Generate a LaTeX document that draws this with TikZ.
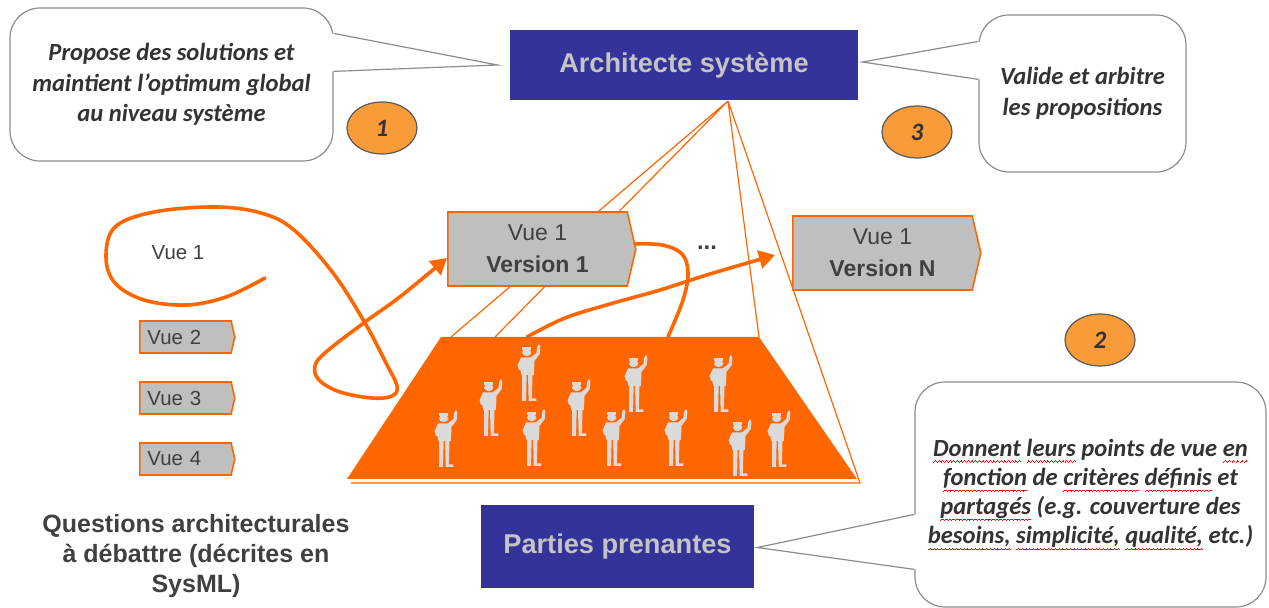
\documentclass[tikz,border=0pt]{standalone}
\usepackage{fontspec}
\setmainfont{Liberation Sans}
\newfontfamily\calfont{Carlito}
\usetikzlibrary{positioning,calc,arrows.meta,backgrounds,shapes.geometric,shapes.symbols}

\definecolor{navy}{HTML}{333399}
\definecolor{vorange}{HTML}{FF6600}
\definecolor{badgefill}{HTML}{F99B38}
\definecolor{badgeline}{HTML}{595959}
\definecolor{boxgray}{HTML}{BFBFBF}
\definecolor{txtgray}{HTML}{404040}
\definecolor{notetxt}{HTML}{333333}
\definecolor{capgray}{HTML}{C4C4C4}
\definecolor{figgray}{HTML}{DADADA}
\definecolor{notegray}{HTML}{8C8C8C}

% red spell-check squiggle under a word, built from tiny rules
\newcommand\wavebit{\hbox{\rule[0pt]{0.45pt}{0.4pt}\rule[0.3pt]{0.45pt}{0.4pt}%
  \rule[0.6pt]{0.45pt}{0.4pt}\rule[0.3pt]{0.45pt}{0.4pt}}}
\newcommand\squig[1]{\setbox0\hbox{#1}\leavevmode
  \rlap{\lower3pt\hbox to\wd0{\color{red}\xleaders\wavebit\hfill}}\box0\relax}

\tikzset{
  person/.pic={
    \begin{scope}[xscale=1.3]
    \fill[figgray] (-1,-49.5) circle[radius=3.6];
    \fill[figgray] (-4.5,-54.5) rectangle (2.5,-52);
    \fill[figgray] (-5.5,-44.5) -- (3.5,-44.5) -- (5,-40) -- (4.5,-27) -- (-5,-27) -- (-6.5,-35) -- cycle;
    \fill[figgray] (2,-44.5) -- (6.5,-49) -- (7,-55) -- (8.5,-58) -- (9.5,-55.5) -- (9,-48) -- (5,-41) -- cycle;
    \fill[figgray] (-5.5,-44) -- (-8,-37) -- (-7,-32) -- (-5.5,-33) -- cycle;
    \fill[figgray] (-4.5,-28) -- (-4.5,-1) -- (-1.5,-1) -- (-1,-28) -- cycle;
    \fill[figgray] (0,-28) -- (0.5,-1) -- (6.5,-1) -- (6.5,-3.5) -- (3,-3.5) -- (3.5,-28) -- cycle;
    \end{scope}
  }
}

\begin{document}
\begin{tikzpicture}[x=0.5pt, y=-0.5pt,
  role/.style={fill=navy, text=capgray, inner sep=0pt, font=\fontsize{13.6}{16}\selectfont\bfseries},
  note/.style={draw=notegray, line width=0.6pt, fill=white, rounded corners=15pt, inner sep=0pt,
    align=center, text=notetxt, font=\calfont\bfseries\itshape\fontsize{12.3}{15.2}\selectfont},
  badge/.style={ellipse, draw=badgeline, line width=0.6pt, fill=badgefill, minimum width=35pt,
    minimum height=26pt, inner sep=0pt, text=notetxt, font=\calfont\bfseries\itshape\fontsize{12.5}{12}\selectfont},
  view/.style={signal, signal to=east, signal pointer angle=154, draw=vorange, line width=0.8pt,
    fill=boxgray, inner sep=0pt, align=center, text=txtgray, anchor=west},
  smallview/.style={view, minimum width=47.5pt, minimum height=16pt, text width=38pt, align=left,
    font=\fontsize{10.2}{12}\selectfont},
  bigview/.style={view, minimum width=94pt, minimum height=37pt, font=\fontsize{11.5}{16}\selectfont},
  pointer/.style={draw=notegray, line width=0.6pt},
  wire/.style={draw=vorange, line width=0.6pt},
  flow/.style={draw=vorange, line width=1.8pt, line cap=round},
  tip/.style={-{Triangle[length=8pt,width=9pt]}}
]
\useasboundingbox (0,0) rectangle (1269,608);

% roles
\node[role, minimum width=174pt, minimum height=35pt] (arch) at (684,65) {Architecte système};
\node[role, minimum width=136.5pt, minimum height=41.5pt] (parties) at (617.5,546.5) {Parties prenantes};

% base of the stakeholders pyramid
\coordinate (apex) at (728,101);
\coordinate (ttl) at (441,337);
\coordinate (ttr) at (759,337);
\coordinate (tbr) at (857,479);
\coordinate (tbl) at (347,479);
\coordinate (rayA) at (451,337);
\coordinate (rayB) at (495,337);
\coordinate (rayD) at (860,483);
\coordinate (rayE) at (351,483);
\coordinate (inV) at (668,337);
\coordinate (outV) at (527,337);

\begin{scope}[on background layer]
  \draw[wire] (apex) -- (rayA) (apex) -- (rayB) (apex) -- (ttr) (apex) -- (rayD) -- (rayE);
\end{scope}
\fill[vorange] (ttl) -- (ttr) -- (tbr) -- (tbl) -- cycle;
\foreach \px/\py in {445/468, 490/437, 528/402, 533/467, 578/437, 613/467,
                     635/413, 675/467, 720/413, 739/477, 778/468}
  \pic at (\px,\py) {person};

% views
\node[text=txtgray, font=\fontsize{10.2}{12}\selectfont] (q1) at (178,253) {Vue 1};
\node[smallview] (q2) at (139,337) {Vue 2};
\node[smallview] (q3) at (139,398) {Vue 3};
\node[smallview] (q4) at (139,459) {Vue 4};
\node[bigview] (v11) at (447,249) {Vue 1\\\textbf{Version 1}};
\node[bigview] (v1n) at (792,253) {Vue 1\\\textbf{Version N}};
\node[text=txtgray, font=\fontsize{12}{12}\selectfont\bfseries] (dots) at (707,248) {...};

\node[align=center, text=txtgray, font=\fontsize{12.5}{15}\selectfont\bfseries] (quest) at (196,556)
  {Questions architecturales\\à débattre (décrites en\\SysML)};

% flows between the views and the stakeholders
\coordinate (loopstart) at (265,278);
\draw[flow, tip] plot[smooth, tension=0.6] coordinates {(loopstart) (226,297) (186,305) (144,300)
  (115,283) (106,257) (115,227) (154,212) (215,207) (261,213) (294,230) (333,273) (365,323)
  (386,363) (397,386) (392,396) (372,398) (340,392) (319,380) (315,366) (326,352) (365,322)
  (401,296) ($(v11.west)+(0,9)$)};
\draw[flow] plot[smooth, tension=0.6] coordinates {($(v11.east)+(-2,-5)$) (662,245) (682,254)
  (688,273) (683,300) (inV)};
\draw[flow, tip] plot[smooth, tension=0.6] coordinates {(outV) (565,318) (610,304) (660,290)
  (710,274) ($(v1n.west)+(-17,2)$)};

% callouts
\node[note, minimum width=161.5pt, minimum height=76.5pt] (n1) at (171.5,84.5)
  {Propose des solutions et\\maintient l’optimum global\\au niveau système};
\fill[white] ($(n1.north east)+(-1.5,26)$) -- ($(arch.west)+(-12,0)$) -- ($(n1.north east)+(-1.5,64)$) -- cycle;
\draw[pointer] ($(n1.north east)+(0,26)$) -- ($(arch.west)+(-12,0)$) -- ($(n1.north east)+(0,64)$);

\node[note, minimum width=103.5pt, minimum height=78.5pt] (n3) at (1082.5,93.5)
  {Valide et arbitre\\les propositions};
\fill[white] ($(n3.north west)+(1.5,27)$) -- ($(arch.east)+(4,-3)$) -- ($(n3.north west)+(1.5,65)$) -- cycle;
\draw[pointer] ($(n3.north west)+(0,27)$) -- ($(arch.east)+(4,-3)$) -- ($(n3.north west)+(0,65)$);

\node[note, minimum width=175.5pt, minimum height=112.5pt, font=\calfont\bfseries\itshape\fontsize{12.3}{14.6}\selectfont]
  (n2) at (1090.5,494.5)
  {\squig{Donnent} \squig{leurs} points de vue \squig{en}\\
   \squig{fonction} de \squig{critères} \squig{définis} et\\
   \squig{partagés} (e.g. couverture des\\
   \squig{besoins,} \squig{simplicité,} \squig{qualité,} etc.)};
\fill[white] ($(n2.north west)+(1.5,133)$) -- ($(parties.east)+(3,1)$) -- ($(n2.north west)+(1.5,188)$) -- cycle;
\draw[pointer] ($(n2.north west)+(0,133)$) -- ($(parties.east)+(3,1)$) -- ($(n2.north west)+(0,188)$);

% step numbers
\node[badge] (b1) at (382,128) {1};
\node[badge] (b3) at (917,132) {3};
\node[badge] (b2) at (1100,340) {2};
\end{tikzpicture}
\end{document}
